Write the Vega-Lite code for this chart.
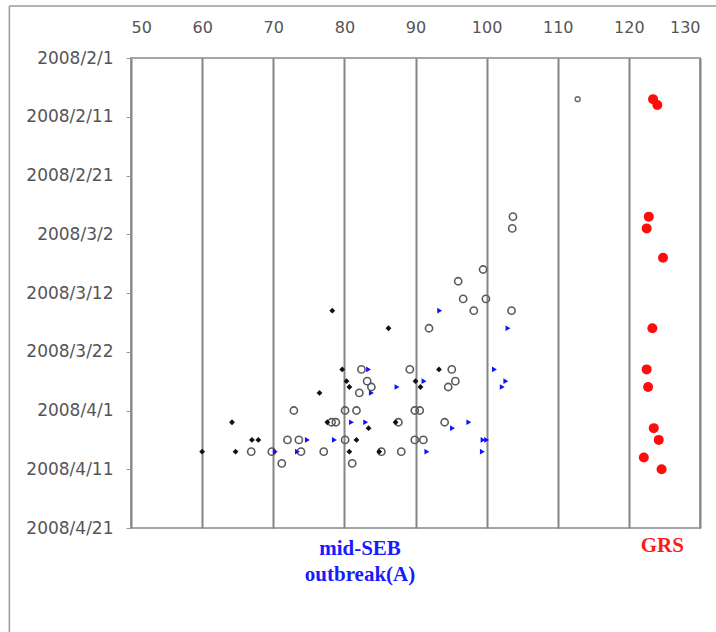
{
  "$schema": "https://vega.github.io/schema/vega-lite/v6.json",
  "width": 569,
  "height": 470,
  "autosize": "none",
  "padding": {"left": 131, "top": 58, "right": 16, "bottom": 104},
  "background": "white",
  "config": {
    "view": {"stroke": "#a6a6a6", "strokeWidth": 2},
    "font": "DejaVu Sans"
  },
  "data": {
    "values": [
      {"group": "black", "x": 60.0, "date": "2008-04-08"},
      {"group": "black", "x": 64.2, "date": "2008-04-03"},
      {"group": "black", "x": 64.7, "date": "2008-04-08"},
      {"group": "black", "x": 67.0, "date": "2008-04-06"},
      {"group": "black", "x": 67.9, "date": "2008-04-06"},
      {"group": "black", "x": 76.5, "date": "2008-03-29"},
      {"group": "black", "x": 77.6, "date": "2008-04-03"},
      {"group": "black", "x": 78.3, "date": "2008-03-15"},
      {"group": "black", "x": 79.7, "date": "2008-03-25"},
      {"group": "black", "x": 80.3, "date": "2008-03-27"},
      {"group": "black", "x": 80.7, "date": "2008-03-28"},
      {"group": "black", "x": 80.7, "date": "2008-04-08"},
      {"group": "black", "x": 81.7, "date": "2008-04-06"},
      {"group": "black", "x": 83.4, "date": "2008-04-04"},
      {"group": "black", "x": 84.9, "date": "2008-04-08"},
      {"group": "black", "x": 86.2, "date": "2008-03-18"},
      {"group": "black", "x": 87.2, "date": "2008-04-03"},
      {"group": "black", "x": 90.0, "date": "2008-03-27"},
      {"group": "black", "x": 90.7, "date": "2008-03-28"},
      {"group": "black", "x": 93.3, "date": "2008-03-25"},

      {"group": "open-small", "x": 112.8, "date": "2008-02-08"},

      {"group": "open", "x": 103.7, "date": "2008-02-28"},
      {"group": "open", "x": 103.6, "date": "2008-03-01"},
      {"group": "open", "x": 99.5, "date": "2008-03-08"},
      {"group": "open", "x": 96.0, "date": "2008-03-10"},
      {"group": "open", "x": 96.7, "date": "2008-03-13"},
      {"group": "open", "x": 99.9, "date": "2008-03-13"},
      {"group": "open", "x": 98.2, "date": "2008-03-15"},
      {"group": "open", "x": 103.5, "date": "2008-03-15"},
      {"group": "open", "x": 91.9, "date": "2008-03-18"},
      {"group": "open", "x": 82.4, "date": "2008-03-25"},
      {"group": "open", "x": 89.2, "date": "2008-03-25"},
      {"group": "open", "x": 95.1, "date": "2008-03-25"},
      {"group": "open", "x": 83.2, "date": "2008-03-27"},
      {"group": "open", "x": 95.6, "date": "2008-03-27"},
      {"group": "open", "x": 83.8, "date": "2008-03-28"},
      {"group": "open", "x": 94.6, "date": "2008-03-28"},
      {"group": "open", "x": 82.1, "date": "2008-03-29"},
      {"group": "open", "x": 72.9, "date": "2008-04-01"},
      {"group": "open", "x": 80.1, "date": "2008-04-01"},
      {"group": "open", "x": 81.7, "date": "2008-04-01"},
      {"group": "open", "x": 89.9, "date": "2008-04-01"},
      {"group": "open", "x": 90.6, "date": "2008-04-01"},
      {"group": "open", "x": 78.2, "date": "2008-04-03"},
      {"group": "open", "x": 78.8, "date": "2008-04-03"},
      {"group": "open", "x": 87.6, "date": "2008-04-03"},
      {"group": "open", "x": 94.1, "date": "2008-04-03"},
      {"group": "open", "x": 72.0, "date": "2008-04-06"},
      {"group": "open", "x": 73.6, "date": "2008-04-06"},
      {"group": "open", "x": 80.1, "date": "2008-04-06"},
      {"group": "open", "x": 89.9, "date": "2008-04-06"},
      {"group": "open", "x": 91.1, "date": "2008-04-06"},
      {"group": "open", "x": 66.9, "date": "2008-04-08"},
      {"group": "open", "x": 69.8, "date": "2008-04-08"},
      {"group": "open", "x": 73.9, "date": "2008-04-08"},
      {"group": "open", "x": 77.1, "date": "2008-04-08"},
      {"group": "open", "x": 85.2, "date": "2008-04-08"},
      {"group": "open", "x": 88.0, "date": "2008-04-08"},
      {"group": "open", "x": 71.2, "date": "2008-04-10"},
      {"group": "open", "x": 81.1, "date": "2008-04-10"},

      {"group": "blue", "x": 93.4, "date": "2008-03-15"},
      {"group": "blue", "x": 103.0, "date": "2008-03-18"},
      {"group": "blue", "x": 83.4, "date": "2008-03-25"},
      {"group": "blue", "x": 101.1, "date": "2008-03-25"},
      {"group": "blue", "x": 91.2, "date": "2008-03-27"},
      {"group": "blue", "x": 102.7, "date": "2008-03-27"},
      {"group": "blue", "x": 87.4, "date": "2008-03-28"},
      {"group": "blue", "x": 102.2, "date": "2008-03-28"},
      {"group": "blue", "x": 83.8, "date": "2008-03-29"},
      {"group": "blue", "x": 81.0, "date": "2008-04-03"},
      {"group": "blue", "x": 83.0, "date": "2008-04-03"},
      {"group": "blue", "x": 97.5, "date": "2008-04-03"},
      {"group": "blue", "x": 95.2, "date": "2008-04-04"},
      {"group": "blue", "x": 74.8, "date": "2008-04-06"},
      {"group": "blue", "x": 78.6, "date": "2008-04-06"},
      {"group": "blue", "x": 99.5, "date": "2008-04-06"},
      {"group": "blue", "x": 100.0, "date": "2008-04-06"},
      {"group": "blue", "x": 70.3, "date": "2008-04-08"},
      {"group": "blue", "x": 73.4, "date": "2008-04-08"},
      {"group": "blue", "x": 91.6, "date": "2008-04-08"},
      {"group": "blue", "x": 99.4, "date": "2008-04-08"},

      {"group": "red", "x": 123.4, "date": "2008-02-08"},
      {"group": "red", "x": 124.0, "date": "2008-02-09"},
      {"group": "red", "x": 122.8, "date": "2008-02-28"},
      {"group": "red", "x": 122.5, "date": "2008-03-01"},
      {"group": "red", "x": 124.8, "date": "2008-03-06"},
      {"group": "red", "x": 123.3, "date": "2008-03-18"},
      {"group": "red", "x": 122.5, "date": "2008-03-25"},
      {"group": "red", "x": 122.7, "date": "2008-03-28"},
      {"group": "red", "x": 123.5, "date": "2008-04-04"},
      {"group": "red", "x": 124.2, "date": "2008-04-06"},
      {"group": "red", "x": 122.1, "date": "2008-04-09"},
      {"group": "red", "x": 124.6, "date": "2008-04-11"}
    ]
  },
  "encoding": {
    "x": {
      "field": "x",
      "type": "quantitative",
      "scale": {"domain": [50, 130], "nice": false, "zero": false},
      "axis": {
        "orient": "top",
        "title": null,
        "values": [50, 60, 70, 80, 90, 100, 110, 120, 130],
        "grid": true,
        "gridColor": "#858585",
        "gridWidth": 2,
        "domain": false,
        "ticks": false,
        "tickSize": 0,
        "labelPadding": 23,
        "labelFont": "DejaVu Sans",
        "labelFontSize": 16,
        "labelColor": "#555555"
      }
    },
    "y": {
      "field": "date",
      "type": "temporal",
      "scale": {
        "type": "utc",
        "domain": [
          {"year": 2008, "month": 2, "date": 1, "utc": true},
          {"year": 2008, "month": 4, "date": 21, "utc": true}
        ],
        "reverse": true,
        "nice": false
      },
      "axis": {
        "title": null,
        "values": [
          {"year": 2008, "month": 2, "date": 1, "utc": true},
          {"year": 2008, "month": 2, "date": 11, "utc": true},
          {"year": 2008, "month": 2, "date": 21, "utc": true},
          {"year": 2008, "month": 3, "date": 2, "utc": true},
          {"year": 2008, "month": 3, "date": 12, "utc": true},
          {"year": 2008, "month": 3, "date": 22, "utc": true},
          {"year": 2008, "month": 4, "date": 1, "utc": true},
          {"year": 2008, "month": 4, "date": 11, "utc": true},
          {"year": 2008, "month": 4, "date": 21, "utc": true}
        ],
        "format": "%Y/%-m/%-d",
        "grid": false,
        "domain": false,
        "tickColor": "#999999",
        "tickSize": 5,
        "labelPadding": 13,
        "labelFont": "DejaVu Sans",
        "labelFontSize": 17,
        "labelColor": "#555555"
      }
    }
  },
  "layer": [
    {
      "data": {
        "values": [
          {"x": 32.9, "date": "2008-01-23T04:00:00Z", "end": "2008-05-20T00:00:00Z"}
        ]
      },
      "mark": {"type": "rule", "color": "#9a9a9a", "strokeWidth": 1.5},
      "encoding": {
        "y2": {"field": "end"}
      }
    },
    {
      "data": {
        "values": [
          {"x": 32.9, "x_end": 145, "date": "2008-01-23T04:00:00Z"}
        ]
      },
      "mark": {"type": "rule", "color": "#9a9a9a", "strokeWidth": 1.5},
      "encoding": {
        "x2": {"field": "x_end"}
      }
    },
    {
      "transform": [{"filter": "datum.group === 'open'"}],
      "mark": {"type": "point", "shape": "circle", "filled": false, "stroke": "#5a5a5a", "strokeWidth": 1.6, "size": 52, "opacity": 1}
    },
    {
      "transform": [{"filter": "datum.group === 'open-small'"}],
      "mark": {"type": "point", "shape": "circle", "filled": false, "stroke": "#6a6a6a", "strokeWidth": 1.4, "size": 24, "opacity": 1}
    },
    {
      "transform": [{"filter": "datum.group === 'black'"}],
      "mark": {"type": "point", "shape": "diamond", "filled": true, "color": "#111111", "size": 34, "opacity": 1}
    },
    {
      "transform": [{"filter": "datum.group === 'blue'"}],
      "mark": {"type": "point", "shape": "triangle-right", "filled": true, "color": "#1010ff", "size": 32, "opacity": 1}
    },
    {
      "transform": [{"filter": "datum.group === 'red'"}],
      "mark": {"type": "point", "shape": "circle", "filled": true, "color": "#ff0d0d", "size": 100, "opacity": 1}
    },
    {
      "data": {
        "values": [
          {"label": "mid-SEB", "series": "mid-SEB", "x": 82.2, "date": "2008-04-24T14:00:00Z"},
          {"label": "outbreak(A)", "series": "mid-SEB", "x": 82.2, "date": "2008-04-29T00:00:00Z"},
          {"label": "GRS", "series": "GRS", "x": 124.7, "date": "2008-04-24T02:00:00Z"}
        ]
      },
      "mark": {"type": "text", "font": "Liberation Serif", "fontSize": 21, "fontWeight": "bold", "align": "center", "baseline": "middle"},
      "encoding": {
        "text": {"field": "label"},
        "color": {
          "field": "series",
          "type": "nominal",
          "scale": {"domain": ["mid-SEB", "GRS"], "range": ["#1a1aff", "#ff1a1a"]},
          "legend": null
        }
      }
    }
  ]
}
